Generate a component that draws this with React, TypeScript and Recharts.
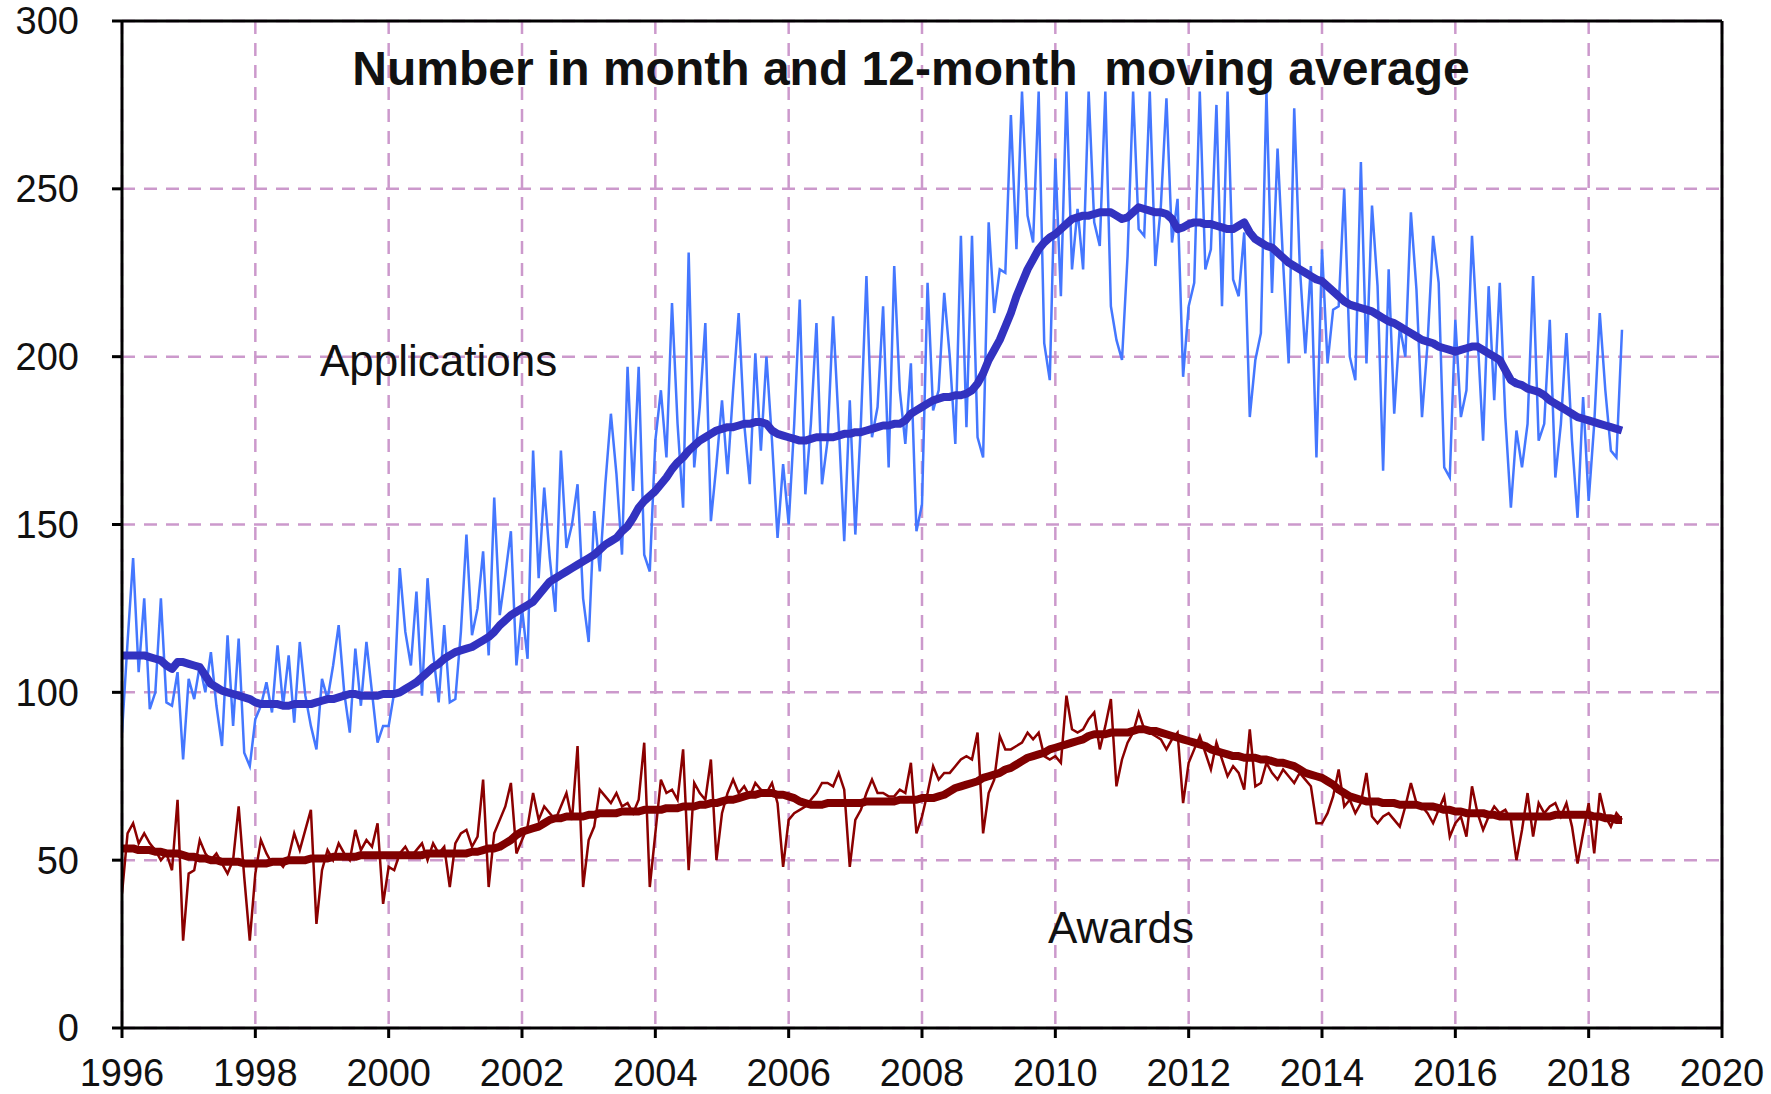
import React from "react";
import {
  LineChart,
  Line,
  XAxis,
  YAxis,
  CartesianGrid,
  ReferenceLine,
} from "recharts";

// Monthly values, Jan 1996 .. Jul 2018
const applications = [
  88, 115, 140, 106, 128, 95, 100, 128, 97, 96, 106, 80, // 1996
  104, 98, 108, 100, 112, 96, 84, 117, 90, 116, 82, 78, // 1997
  92, 96, 103, 94, 114, 96, 111, 91, 115, 99, 90, 83, // 1998
  104, 98, 108, 120, 100, 88, 113, 96, 115, 100, 85, 90, // 1999
  90, 100, 137, 118, 108, 130, 99, 134, 112, 97, 120, 97, // 2000
  98, 118, 147, 117, 125, 142, 111, 158, 123, 135, 148, 108, // 2001
  125, 110, 172, 134, 161, 140, 124, 172, 143, 150, 162, 128, // 2002
  115, 154, 136, 162, 183, 165, 141, 197, 160, 197, 141, 136, // 2003
  175, 190, 170, 216, 180, 155, 231, 167, 185, 210, 151, 168, // 2004
  187, 165, 190, 213, 180, 162, 201, 172, 200, 175, 146, 168, // 2005
  150, 180, 217, 159, 180, 210, 162, 175, 212, 180, 145, 187, // 2006
  147, 180, 224, 176, 185, 215, 167, 227, 190, 174, 198, 148, // 2007
  156, 222, 184, 190, 219, 200, 174, 236, 179, 236, 176, 170, // 2008
  240, 213, 226, 225, 272, 232, 279, 242, 234, 279, 204, 193, // 2009
  259, 218, 279, 226, 244, 226, 279, 240, 233, 279, 215, 205, // 2010
  199, 230, 279, 238, 236, 279, 227, 245, 277, 234, 247, 194, // 2011
  215, 222, 279, 226, 232, 275, 215, 279, 223, 218, 237, 182, // 2012
  199, 207, 279, 219, 262, 228, 198, 274, 227, 201, 227, 170, // 2013
  232, 198, 214, 215, 250, 200, 193, 258, 198, 245, 221, 166, // 2014
  226, 183, 209, 200, 243, 220, 182, 204, 236, 222, 167, 164, // 2015
  211, 182, 190, 236, 206, 175, 221, 187, 222, 182, 155, 178, // 2016
  167, 180, 224, 175, 180, 211, 164, 180, 207, 175, 152, 188, // 2017
  157, 180, 213, 190, 172, 170, 208, // 2018
];

const applicationsAvg = [
  111, 111, 111, 111, 111, 110.5, 110, 109.5, 108, 107, 109, 109,
  108.5, 108, 107.5, 105, 102.5, 101.5, 100.5, 100, 99.5, 99, 98.5, 98,
  97, 96.5, 96.5, 96.5, 96.5, 96, 96, 96.5, 96.5, 96.5, 96.5, 97,
  97.5, 98, 98, 98.5, 99, 99.5, 99.5, 99, 99, 99, 99, 99.5,
  99.5, 99.5, 100, 101, 102, 103, 104.5, 106, 107.5, 108.5, 110, 111,
  112, 112.5, 113, 113.5, 114.5, 115.5, 116.5, 118, 120, 121.5, 123, 124,
  125, 126, 127, 129, 131, 133, 134, 135, 136, 137, 138, 139,
  140, 141, 142.5, 144, 145, 146, 148, 149.5, 152, 155, 157, 158.5,
  160, 162, 164, 166.5, 168.5, 170, 172, 173.5, 175, 176, 177, 178,
  178.5, 179, 179, 179.5, 180, 180, 180.5, 180.5, 180, 178, 177, 176.5,
  176, 175.5, 175, 175, 175.5, 176, 176, 176, 176, 176.5, 177, 177,
  177.5, 177.5, 178, 178.5, 179, 179.5, 179.5, 180, 180, 181, 183, 184,
  185, 186, 187, 187.5, 188, 188, 188.5, 188.5, 189, 190, 192, 195,
  199, 202, 205, 209, 213, 218, 222, 226, 229, 232, 234, 235.5,
  236.5, 238, 239.5, 241, 241.5, 242, 242, 242.5, 243, 243, 243, 242,
  241, 241.5, 243, 244.5, 244, 243.5, 243, 243, 242.5, 241, 238, 238.5,
  239.5, 240, 240, 239.5, 239.5, 239, 238.5, 238, 238, 239, 240, 237,
  235, 234, 233, 232.5, 231, 229.5, 228, 227, 226, 225, 224, 223,
  222.5, 221, 219.5, 218, 216.5, 215.5, 215, 214.5, 214, 213.5, 212.5, 211.5,
  210.5, 210, 209, 208, 207, 206, 205, 204.5, 204, 203, 202.5, 202,
  201.5, 202, 202.5, 203, 203, 202, 201, 200, 199, 196, 193, 192,
  191.5, 190.5, 190, 189.5, 188.5, 187, 186, 185, 184, 183, 182, 181.5,
  181, 180.5, 180, 179.5, 179, 178.5, 178,
];

const awards = [
  40, 58, 61, 55, 58, 55, 53, 50, 52, 47, 68, 26, // 1996
  46, 47, 56, 52, 50, 52, 49, 46, 50, 66, 45, 26, // 1997
  46, 56, 52, 49, 50, 48, 51, 58, 53, 59, 65, 31, // 1998
  47, 53, 50, 55, 52, 50, 59, 53, 56, 54, 61, 37, // 1999
  48, 47, 52, 54, 51, 53, 55, 50, 55, 52, 54, 42, // 2000
  55, 58, 59, 54, 57, 74, 42, 58, 62, 66, 73, 52, // 2001
  56, 60, 70, 62, 66, 64, 62, 66, 70, 62, 84, 42, // 2002
  56, 60, 71, 69, 67, 70, 66, 67, 64, 68, 85, 42, // 2003
  58, 74, 70, 71, 68, 83, 47, 73, 70, 68, 80, 50, // 2004
  64, 70, 74, 70, 72, 69, 73, 71, 70, 73, 67, 48, // 2005
  62, 64, 65, 66, 68, 70, 73, 73, 72, 76, 71, 48, // 2006
  62, 65, 70, 74, 70, 70, 69, 69, 71, 70, 79, 58, // 2007
  63, 70, 78, 74, 76, 76, 78, 80, 81, 80, 88, 58, // 2008
  70, 74, 87, 83, 83, 84, 85, 88, 86, 88, 81, 80, // 2009
  81, 79, 99, 89, 88, 89, 92, 94, 83, 90, 98, 72, // 2010
  80, 85, 88, 94, 89, 88, 87, 86, 83, 86, 88, 67, // 2011
  79, 83, 87, 82, 77, 85, 80, 75, 78, 76, 71, 89, // 2012
  72, 73, 79, 76, 74, 77, 75, 73, 76, 74, 72, 61, // 2013
  61, 64, 69, 77, 66, 68, 64, 67, 76, 63, 61, 63, // 2014
  64, 62, 60, 66, 73, 67, 66, 64, 61, 65, 69, 57, // 2015
  61, 63, 57, 72, 64, 59, 63, 66, 64, 65, 62, 50, // 2016
  59, 70, 57, 67, 64, 66, 67, 63, 67, 60, 49, 58, // 2017
  67, 52, 70, 63, 60, 64, 62, // 2018
];

const awardsAvg = [
  53.5, 53.5, 53.5, 53, 53, 53, 52.5, 52.5, 52, 52, 52, 51.5,
  51, 51, 50.5, 50.5, 50, 50, 49.5, 49.5, 49.5, 49.5, 49, 49,
  49, 49, 49, 49.5, 49.5, 49.5, 50, 50, 50, 50, 50.5, 50.5,
  50.5, 50.5, 51, 51, 51, 51, 51, 51.5, 51.5, 51.5, 51.5, 51.5,
  51.5, 51.5, 51.5, 51.5, 51.5, 51.5, 51.5, 52, 52, 52, 52, 52,
  52, 52, 52, 52.5, 52.5, 53, 53.5, 53.5, 54, 55, 56, 57.5,
  58.5, 59, 59.5, 60, 61, 62, 62.5, 62.5, 63, 63, 63, 63,
  63.5, 63.5, 64, 64, 64, 64, 64.5, 64.5, 64.5, 64.5, 65, 65,
  65, 65, 65.5, 65.5, 65.5, 66, 66, 66, 66.5, 66.5, 67, 67,
  67.5, 68, 68, 68.5, 69, 69.5, 69.5, 70, 70, 70, 69.5, 69.5,
  69, 68.5, 67.5, 67, 66.5, 66.5, 66.5, 67, 67, 67, 67, 67,
  67, 67, 67.5, 67.5, 67.5, 67.5, 67.5, 67.5, 68, 68, 68, 68,
  68.5, 68.5, 68.5, 69, 69.5, 70.5, 71.5, 72, 72.5, 73, 73.5, 74.5,
  75, 75.5, 76, 77, 77.5, 78.5, 79.5, 80.5, 81, 81.5, 82, 83,
  83.5, 84, 84.5, 85, 85.5, 86, 87, 87.5, 87.5, 87.5, 88, 88,
  88, 88, 88.5, 89, 89, 88.5, 88.5, 88, 87.5, 87, 86.5, 86,
  85.5, 85, 84.5, 84, 83, 82.5, 82, 81.5, 81, 81, 80.5, 80.5,
  80.5, 80, 80, 79.5, 79, 79, 78.5, 78, 77, 76, 75.5, 75,
  74.5, 73.5, 72.5, 71, 70, 69, 68.5, 68, 67.5, 67.5, 67.5, 67,
  67, 67, 66.5, 66.5, 66.5, 66.5, 66, 66, 66, 65.5, 65, 65,
  64.5, 64.5, 64, 64, 64, 64, 63.5, 63.5, 63, 63, 63, 63,
  63, 63, 63, 63, 63, 63, 63.5, 63.5, 63.5, 63.5, 63.5, 63.5,
  63.5, 63, 63, 62.5, 62.5, 62, 62,
];

const startYear = 1996;
const xTicks = [1996, 1998, 2000, 2002, 2004, 2006, 2008, 2010, 2012, 2014, 2016, 2018, 2020];
const yTicks = [0, 50, 100, 150, 200, 250, 300];

const titleText = "Number in month and 12-month  moving average";
const appsLabel = "Applications";
const awardsLabel = "Awards";

const rows = applications.map((v, i) => ({
  x: startYear + i / 12,
  apps: v,
  appsAvg: applicationsAvg[i],
  awards: awards[i],
  awardsAvg: awardsAvg[i],
}));

const FONT = "'Liberation Sans', Arial, Helvetica, sans-serif";
const GRID = "#cc99cc";

export default function App() {
  return (
    <div
      style={{
        position: "absolute",
        left: 0,
        top: 0,
        width: 1771,
        height: 1094,
        background: "#fff",
        fontFamily: FONT,
      }}
    >
      <LineChart
        width={1771}
        height={1094}
        data={rows}
        margin={{ top: 21, right: 49, left: 22, bottom: 0 }}
      >
        <CartesianGrid
          stroke={GRID}
          strokeWidth={2.5}
          strokeDasharray="13 9"
        />
        <XAxis
          dataKey="x"
          type="number"
          domain={[1996, 2020]}
          ticks={xTicks}
          interval={0}
          height={66}
          tickSize={10}
          tickMargin={21}
          axisLine={{ stroke: "#000", strokeWidth: 3 }}
          tickLine={{ stroke: "#000", strokeWidth: 3 }}
          tick={{ fill: "#111", fontSize: 38, fontFamily: FONT }}
          allowDataOverflow
        />
        <YAxis
          type="number"
          domain={[0, 300]}
          ticks={yTicks}
          interval={0}
          width={100}
          tickSize={10}
          tickMargin={33}
          axisLine={{ stroke: "#000", strokeWidth: 3 }}
          tickLine={{ stroke: "#000", strokeWidth: 3 }}
          tick={{ fill: "#111", fontSize: 38, fontFamily: FONT }}
          allowDataOverflow
        />
        <Line
          dataKey="apps"
          type="linear"
          stroke="#4477ff"
          strokeWidth={2.5}
          dot={false}
          isAnimationActive={false}
        />
        <Line
          dataKey="awards"
          type="linear"
          stroke="#8b0000"
          strokeWidth={2.5}
          dot={false}
          isAnimationActive={false}
        />
        <Line
          dataKey="appsAvg"
          type="linear"
          stroke="#3232c0"
          strokeWidth={8}
          strokeLinejoin="round"
          dot={false}
          isAnimationActive={false}
        />
        <Line
          dataKey="awardsAvg"
          type="linear"
          stroke="#800000"
          strokeWidth={8}
          strokeLinejoin="round"
          dot={false}
          isAnimationActive={false}
        />
        <ReferenceLine y={300} stroke="#000" strokeWidth={3} />
        <ReferenceLine x={2020} stroke="#000" strokeWidth={3} />
      </LineChart>
      <svg
        width={1771}
        height={1094}
        style={{ position: "absolute", left: 0, top: 0, pointerEvents: "none" }}
      >
        <text
          x={911}
          y={85}
          textAnchor="middle"
          fontSize={48}
          fontWeight="bold"
          fill="#111"
          fontFamily={FONT}
          xmlSpace="preserve"
          style={{ whiteSpace: "pre" }}
        >
          {titleText}
        </text>
        <text x={320} y={376} fontSize={44} fill="#111" fontFamily={FONT}>
          {appsLabel}
        </text>
        <text x={1048} y={943} fontSize={44} fill="#111" fontFamily={FONT}>
          {awardsLabel}
        </text>
      </svg>
    </div>
  );
}
